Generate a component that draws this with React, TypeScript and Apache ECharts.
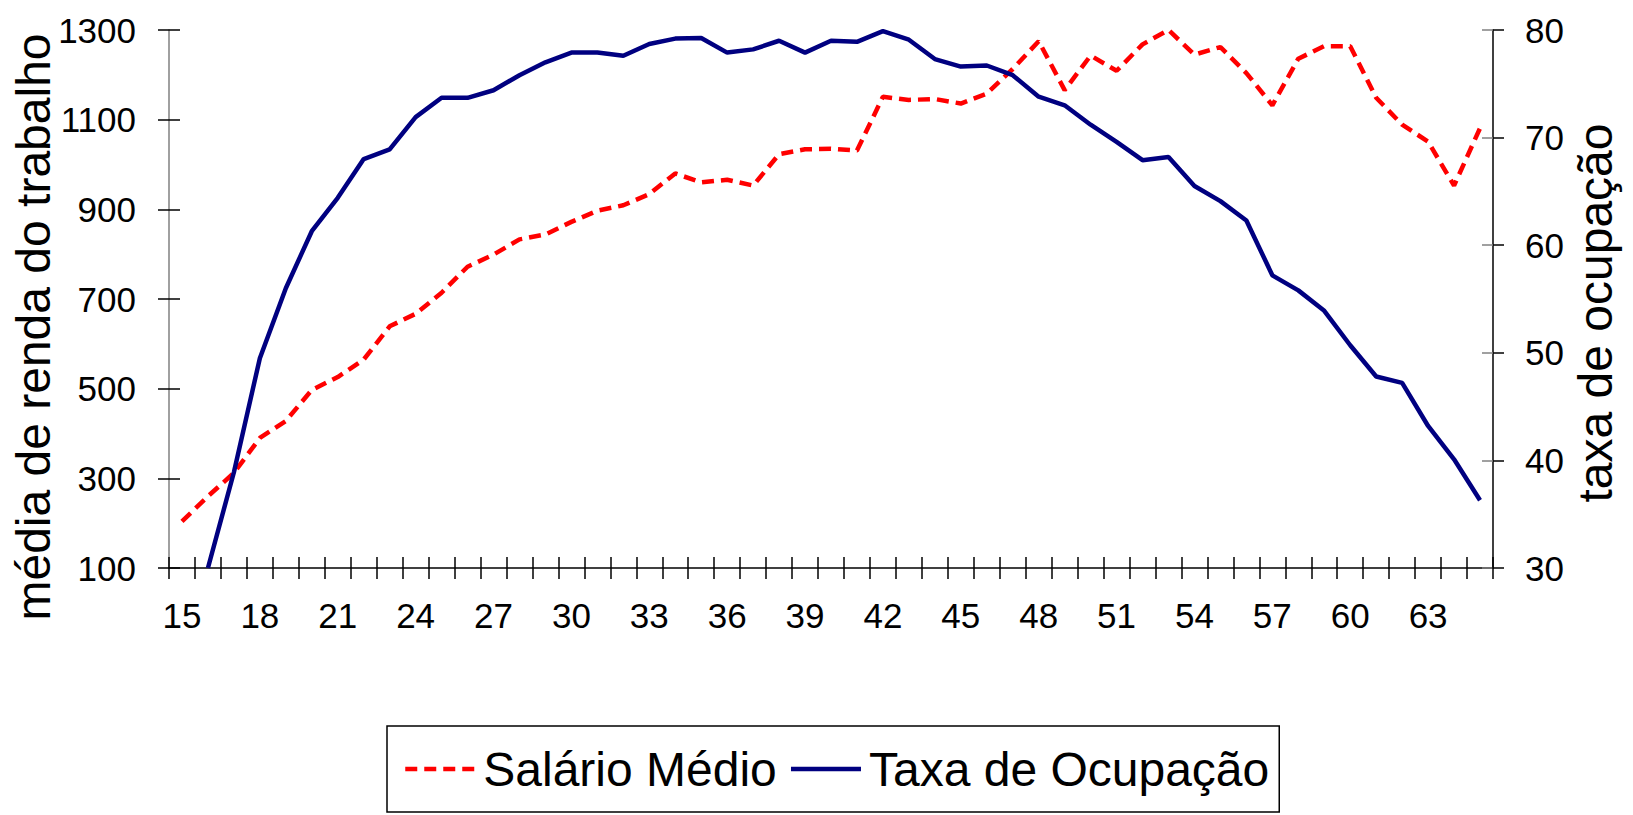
import React, { useEffect, useRef } from "react";
import * as echarts from "echarts";

const ages: string[] = [
  "15","16","17","18","19","20","21","22","23","24","25","26","27","28","29","30",
  "31","32","33","34","35","36","37","38","39","40","41","42","43","44","45","46",
  "47","48","49","50","51","52","53","54","55","56","57","58","59","60","61","62",
  "63","64","65",
];

const salarioMedio: number[] = [
  204, 260, 312, 390, 428, 497, 526, 565, 639, 667, 714, 772, 799, 833, 844, 872,
  897, 909, 934, 980, 960, 966, 953, 1023, 1034, 1035, 1031, 1151, 1144, 1146, 1136, 1158,
  1213, 1275, 1166, 1243, 1209, 1268, 1300, 1245, 1262, 1204, 1132, 1236, 1264, 1264, 1149, 1089,
  1051, 953, 1081,
];

const taxaOcupacao: (number | null)[] = [
  null, 30.0, 38.9, 49.5, 56.0, 61.3, 64.4, 68.0, 68.9, 71.9, 73.7, 73.7, 74.4, 75.8, 77.0, 77.9,
  77.9, 77.6, 78.7, 79.2, 79.25, 77.9, 78.2, 79.0, 77.9, 79.0, 78.9, 79.9, 79.1, 77.3, 76.6, 76.7,
  75.8, 73.8, 73.0, 71.2, 69.6, 67.9, 68.2, 65.5, 64.1, 62.3, 57.2, 55.8, 53.9, 50.7, 47.8, 47.2,
  43.2, 40.1, 36.3,
];

const seriesNames = ["Salário Médio", "Taxa de Ocupação"];
const leftTitle = "média de renda do trabalho";
const rightTitle = "taxa de ocupação";

const FONT = '"Liberation Sans", Arial, sans-serif';

export default function App() {
  const ref = useRef<HTMLDivElement>(null);

  useEffect(() => {
    if (!ref.current) return;
    const chart = echarts.init(ref.current, null, { renderer: "svg" });

    const labelStyle = {
      color: "#000",
      fontSize: 35,
      fontFamily: FONT,
      formatter: (v: any) => String(v),
    };

    const option: any = {
      animation: false,
      backgroundColor: "#fff",
      textStyle: { fontFamily: FONT },
      grid: { left: 169, right: 140, top: 30, bottom: 247, containLabel: false },
      legend: {
        data: seriesNames,
        left: 387,
        top: 726,
        orient: "horizontal",
        padding: [19, 10, 19, 16],
        itemWidth: 70,
        itemHeight: 14,
        itemGap: 12,
        borderColor: "#000",
        borderWidth: 1.5,
        itemStyle: { opacity: 0 },
        lineStyle: { width: 4.5 },
        textStyle: { color: "#000", fontSize: 48, fontFamily: FONT, padding: [0, 0, 0, 3] },
      },
      xAxis: [
        {
          type: "category",
          data: ages,
          boundaryGap: true,
          position: "bottom",
          axisLine: { show: true, lineStyle: { color: "#000", width: 1.5 } },
          axisTick: { show: true, interval: 0, inside: false, length: 11, lineStyle: { color: "#000", width: 1.5 } },
          axisLabel: { interval: 2, margin: 30, color: "#000", fontSize: 35, fontFamily: FONT },
          splitLine: { show: false },
        },
        {
          type: "category",
          data: ages,
          boundaryGap: true,
          position: "bottom",
          axisLine: { show: false },
          axisTick: { show: true, interval: 0, inside: true, length: 11, lineStyle: { color: "#000", width: 1.5 } },
          axisLabel: { show: false },
          splitLine: { show: false },
        },
      ],
      yAxis: [
        {
          type: "value",
          min: 100,
          max: 1300,
          interval: 200,
          position: "left",
          axisLine: { show: true, lineStyle: { color: "#808080", width: 1.5 } },
          axisTick: { show: true, inside: false, length: 11, lineStyle: { color: "#000", width: 1.5 } },
          axisLabel: { margin: 33, ...labelStyle },
          splitLine: { show: false },
        },
        {
          type: "value",
          min: 30,
          max: 80,
          interval: 10,
          position: "right",
          axisLine: { show: true, lineStyle: { color: "#000", width: 1.5 } },
          axisTick: { show: true, inside: false, length: 11, lineStyle: { color: "#000", width: 1.5 } },
          axisLabel: { margin: 32, ...labelStyle },
          splitLine: { show: false },
        },
        {
          type: "value",
          min: 100,
          max: 1300,
          interval: 200,
          position: "left",
          axisLine: { show: false },
          axisTick: { show: true, inside: true, length: 11, lineStyle: { color: "#000", width: 1.5 } },
          axisLabel: { show: false },
          splitLine: { show: false },
        },
        {
          type: "value",
          min: 30,
          max: 80,
          interval: 10,
          position: "right",
          axisLine: { show: false },
          axisTick: { show: true, inside: true, length: 11, lineStyle: { color: "#808080", width: 1.5 } },
          axisLabel: { show: false },
          splitLine: { show: false },
        },
      ],
      graphic: [
        {
          type: "text",
          x: 33,
          y: 327,
          rotation: Math.PI / 2,
          style: {
            text: leftTitle,
            fontSize: 48,
            fontFamily: FONT,
            fill: "#000",
            align: "center",
            verticalAlign: "middle",
          },
        },
        {
          type: "text",
          x: 1595,
          y: 313,
          rotation: Math.PI / 2,
          style: {
            text: rightTitle,
            fontSize: 48,
            fontFamily: FONT,
            fill: "#000",
            align: "center",
            verticalAlign: "middle",
          },
        },
      ],
      series: [
        {
          name: seriesNames[0],
          type: "line",
          xAxisIndex: 0,
          yAxisIndex: 0,
          data: salarioMedio,
          symbol: "none",
          lineStyle: { color: "#FF0000", width: 4.5, type: [12, 7], cap: "butt" },
          itemStyle: { color: "#FF0000" },
          z: 2,
        },
        {
          name: seriesNames[1],
          type: "line",
          xAxisIndex: 0,
          yAxisIndex: 1,
          data: taxaOcupacao,
          symbol: "none",
          connectNulls: false,
          lineStyle: { color: "#000080", width: 4.5 },
          itemStyle: { color: "#000080" },
          z: 3,
        },
      ],
    };

    chart.setOption(option);
    return () => {
      chart.dispose();
    };
  }, []);

  return (
    <div
      ref={ref}
      style={{ position: "fixed", left: 0, top: 0, width: 1633, height: 815, background: "#fff" }}
    />
  );
}
